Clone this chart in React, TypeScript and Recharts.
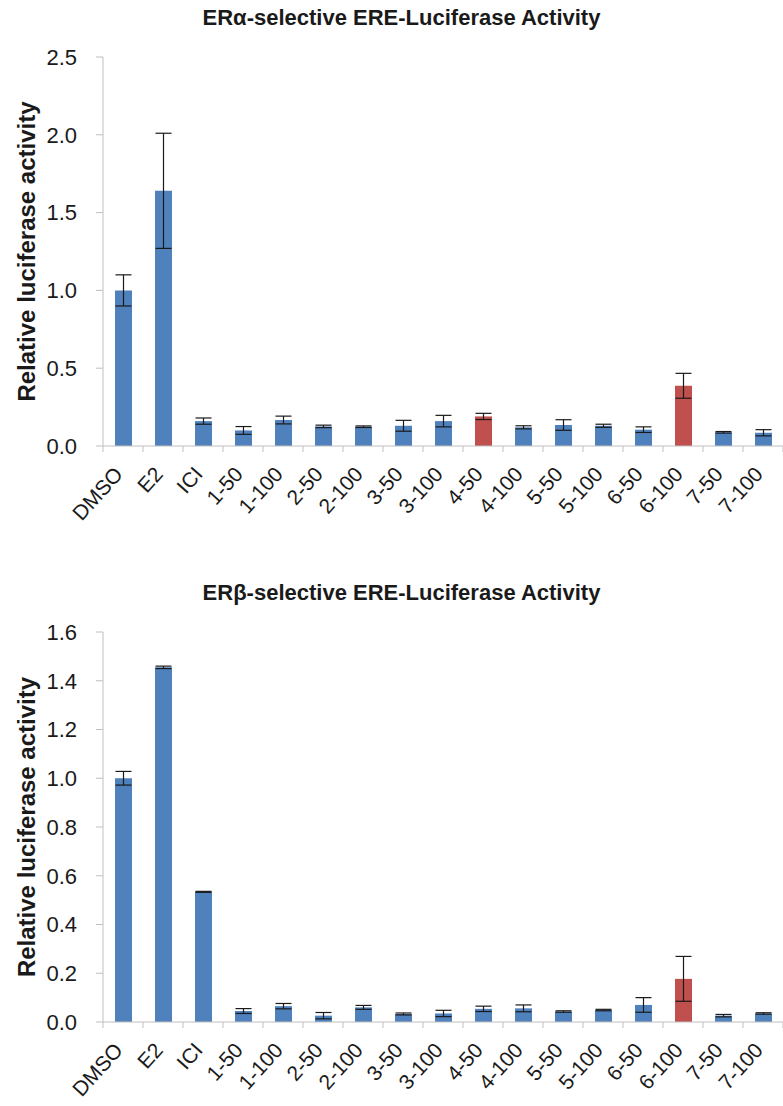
import { BarChart, Bar, XAxis, YAxis, ErrorBar, Cell } from 'recharts'

const categories = [
  'DMSO', 'E2', 'ICI', '1-50', '1-100', '2-50', '2-100', '3-50', '3-100',
  '4-50', '4-100', '5-50', '5-100', '6-50', '6-100', '7-50', '7-100',
]

// ERα panel
const alphaValues = [1.0, 1.64, 0.16, 0.1, 0.167, 0.126, 0.124, 0.13, 0.16, 0.19, 0.12, 0.135, 0.13, 0.105, 0.387, 0.088, 0.085]
const alphaErrors = [0.1, 0.37, 0.02, 0.025, 0.025, 0.008, 0.005, 0.035, 0.037, 0.02, 0.01, 0.034, 0.01, 0.018, 0.08, 0.005, 0.02]
const alphaHighlighted = ['4-50', '6-100']
const alphaTicks = [0, 0.5, 1.0, 1.5, 2.0, 2.5]

// ERβ panel
const betaValues = [1.0, 1.455, 0.534, 0.045, 0.065, 0.026, 0.06, 0.033, 0.035, 0.054, 0.056, 0.043, 0.049, 0.07, 0.177, 0.026, 0.035]
const betaErrors = [0.028, 0.005, 0.002, 0.01, 0.011, 0.013, 0.008, 0.004, 0.013, 0.011, 0.014, 0.003, 0.003, 0.03, 0.092, 0.005, 0.003]
const betaHighlighted = ['6-100']
const betaTicks = [0, 0.2, 0.4, 0.6, 0.8, 1.0, 1.2, 1.4, 1.6]

const BLUE = '#4F81BD'
const RED = '#C0504D'
const AXIS = '#BFBFBF'
const INK = '#1a1a1a'
const FONT = '"Liberation Sans", Arial, sans-serif'

function CategoryTick(props: any) {
  const { x, y, payload, index } = props
  const half = payload?.offset || 20
  const lx = x + 1
  const ly = y + 29
  return (
    <g>
      <line x1={x - half} x2={x - half} y1={y} y2={y + 6} stroke={AXIS} />
      {index === categories.length - 1 && (
        <line x1={x + half} x2={x + half} y1={y} y2={y + 6} stroke={AXIS} />
      )}
      <text
        x={lx}
        y={ly}
        transform={`rotate(-48, ${lx}, ${ly})`}
        textAnchor="end"
        fontSize={21}
        fill={INK}
        fontFamily={FONT}
      >
        {payload.value}
      </text>
    </g>
  )
}

function YTitle(props: any) {
  const vb = props.viewBox
  const cy = vb.y + vb.height / 2
  return (
    <text
      x={26}
      y={cy}
      transform={`rotate(-90, 26, ${cy})`}
      textAnchor="middle"
      dominantBaseline="central"
      fontSize={24}
      fontWeight="bold"
      fill={INK}
      fontFamily={FONT}
    >
      Relative luciferase activity
    </text>
  )
}

type PanelProps = {
  title: string
  values: number[]
  errors: number[]
  highlighted: string[]
  ticks: number[]
  top: number
  height: number
  marginTop: number
  marginBottom: number
  axisHeight: number
  titleTop: number
}

function Panel({ title, values, errors, highlighted, ticks, top, height, marginTop, marginBottom, axisHeight, titleTop }: PanelProps) {
  const data = categories.map((name, i) => ({ name, value: values[i], err: errors[i] }))
  const max = ticks[ticks.length - 1]

  return (
    <>
      <div
        style={{
          position: 'absolute',
          left: 10,
          top: titleTop,
          width: 783,
          textAlign: 'center',
          fontFamily: FONT,
          fontWeight: 'bold',
          fontSize: 22,
          lineHeight: '22px',
          color: INK,
        }}
      >
        {title}
      </div>
      <div style={{ position: 'absolute', left: 0, top }}>
        <BarChart
          width={783}
          height={height}
          data={data}
          margin={{ top: marginTop, right: 0, bottom: marginBottom, left: 0 }}
          barSize={17}
        >
          <XAxis
            dataKey="name"
            interval={0}
            height={axisHeight}
            stroke={AXIS}
            tickLine={false}
            tickSize={0}
            tickMargin={0}
            tick={<CategoryTick />}
          />
          <YAxis
            width={103}
            domain={[0, max]}
            ticks={ticks}
            interval={0}
            stroke={AXIS}
            tickSize={7}
            tickMargin={19}
            tick={{ fontSize: 22, fill: INK, fontFamily: FONT }}
            tickFormatter={(v: number) => v.toFixed(1)}
            label={(p: any) => <YTitle {...p} />}
          />
          <Bar dataKey="value" isAnimationActive={false}>
            {data.map((d) => (
              <Cell key={d.name} fill={highlighted.includes(d.name) ? RED : BLUE} />
            ))}
            <ErrorBar dataKey="err" direction="y" width={8} stroke={INK} strokeWidth={1.2} />
          </Bar>
        </BarChart>
      </div>
    </>
  )
}

export default function App() {
  return (
    <div style={{ position: 'absolute', left: 0, top: 0, width: 783, height: 1106, background: '#fff' }}>
      <Panel
        title="ERα-selective ERE-Luciferase Activity"
        values={alphaValues}
        errors={alphaErrors}
        highlighted={alphaHighlighted}
        ticks={alphaTicks}
        top={0}
        height={570}
        marginTop={57}
        marginBottom={14}
        axisHeight={110}
        titleTop={7}
      />
      <Panel
        title="ERβ-selective ERE-Luciferase Activity"
        values={betaValues}
        errors={betaErrors}
        highlighted={betaHighlighted}
        ticks={betaTicks}
        top={570}
        height={536}
        marginTop={62}
        marginBottom={0}
        axisHeight={84}
        titleTop={582}
      />
    </div>
  )
}
